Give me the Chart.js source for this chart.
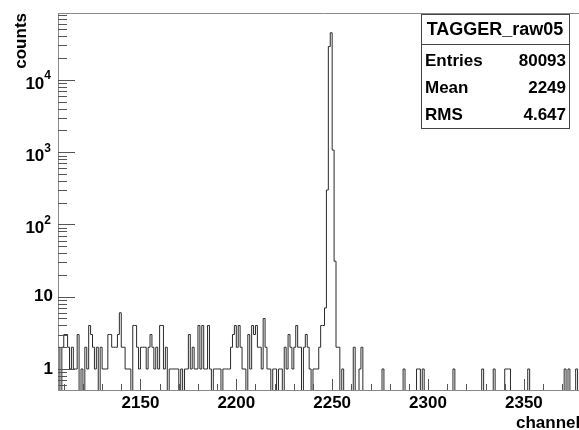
<!DOCTYPE html>
<html><head><meta charset="utf-8">
<script src="https://cdn.jsdelivr.net/npm/chart.js@4.4.1/dist/chart.umd.min.js"></script>
<style>html,body{margin:0;padding:0;overflow:hidden;background:#fff}#wrap{width:600px;height:430px;position:relative}</style>
</head><body><div id="wrap"><canvas id="c" width="600" height="430"></canvas></div>
<script>
// ---- data ----
const binStart = 2107;
const binEnd = 2385;
const counts = [
  2,0,2,3,3,2,1,2,1,1,3,0,1,0,2,1,4,3,2,1,
  2,0,2,1,1,1,3,3,2,2,2,3,6,2,2,1,1,1,0,4,
  4,2,1,2,2,2,1,2,3,2,1,2,1,4,4,1,2,0,1,1,
  1,1,1,0,1,0,1,1,3,1,2,1,1,4,1,4,1,1,4,1,
  0,1,1,1,1,0,1,1,1,1,2,3,4,2,4,2,1,1,0,3,
  1,4,3,4,2,2,1,5,2,1,1,0,1,1,0,1,1,0,2,1,
  3,2,1,2,4,2,2,0,2,3,2,1,0,1,1,1,2,4,4,7,
  300,29000,45000,1070,31,2,2,0,1,0,0,0,0,0,2,0,0,1,2,0,
  0,0,0,0,0,0,0,0,0,1,0,0,0,0,0,0,0,0,0,0,
  1,0,0,0,0,0,0,1,1,0,1,0,0,0,0,0,0,0,0,0,
  0,0,0,0,0,0,1,0,0,0,0,0,0,0,0,0,0,0,0,0,
  0,1,0,0,0,0,0,1,0,0,0,0,0,1,1,1,0,0,0,0,
  0,0,0,0,0,1,0,0,0,0,0,0,0,0,0,0,0,0,0,0,
  0,0,0,0,1,0,1,0,0,0,1,0,0,0,0,0,0,0
];
const xTickLabels = ['2150','2200','2250','2300','2350'];
const xMinorStep = 10;
const yTickValues = [1, 10, 100, 1000, 10000];
const yTickBase = ['1', '10', '10', '10', '10'];
const yTickExp = ['', '', '2', '3', '4'];
const yMin = 0.512, yMax = 84500;
const xTitle = 'channel';
const yTitle = 'counts';
const histName = 'TAGGER_raw05';
const statNames = ['Entries', 'Mean', 'RMS'];
const statValues = ['80093', '2249', '4.647'];

// ---- build ----
// empty bins are drawn down to (and clipped at) the bottom of the log axis, as ROOT does
const zeroFloor = yMin / 10;
const points = counts.map((v, i) => ({x: binStart + i, y: v > 0 ? v : zeroFloor}));
points.push({x: binStart + counts.length, y: points[points.length - 1].y});

const FONT = '"Liberation Sans", Arial, Helvetica, sans-serif';

const rootDecor = {
  id: 'rootDecor',
  afterDraw(chart) {
    const ctx = chart.ctx;
    const a = chart.chartArea;
    const xs = chart.scales.x, ys = chart.scales.y;
    ctx.save();
    // frame
    ctx.strokeStyle = '#8a8a8a';
    ctx.lineWidth = 1;
    ctx.beginPath();
    ctx.moveTo(a.left, a.top + 0.5); ctx.lineTo(a.right, a.top + 0.5);
    ctx.moveTo(a.left + 0.5, a.top); ctx.lineTo(a.left + 0.5, a.bottom);
    ctx.moveTo(a.left, a.bottom + 0.5); ctx.lineTo(a.right, a.bottom + 0.5);
    ctx.moveTo(a.right - 0.5, a.top); ctx.lineTo(a.right - 0.5, a.bottom);
    ctx.stroke();
    // x ticks
    ctx.strokeStyle = '#555';
    ctx.beginPath();
    for (let v = Math.ceil(xs.min / xMinorStep) * xMinorStep; v <= xs.max; v += xMinorStep) {
      const px = Math.round(xs.getPixelForValue(v)) + 0.5;
      const len = (v % 50 === 0) ? 11 : 6;
      ctx.moveTo(px, a.bottom); ctx.lineTo(px, a.bottom - len);
    }
    ctx.stroke();
    // y ticks
    ctx.beginPath();
    for (let e = -1; e <= 4; e++) {
      for (let m = 1; m <= 9; m++) {
        const v = m * Math.pow(10, e);
        if (v < ys.min || v > ys.max) continue;
        const py = Math.round(ys.getPixelForValue(v)) + 0.5;
        const len = (m === 1) ? 17 : 9;
        ctx.moveTo(a.left, py); ctx.lineTo(a.left + len, py);
      }
    }
    ctx.stroke();
    // y labels
    ctx.fillStyle = '#000';
    ctx.textBaseline = 'middle';
    ctx.textAlign = 'right';
    yTickValues.forEach((v, i) => {
      const py = ys.getPixelForValue(v);
      if (!yTickExp[i]) {
        ctx.font = 'bold 17px ' + FONT;
        ctx.fillText(yTickBase[i], a.left - 5, py);
      } else {
        ctx.font = 'bold 12px ' + FONT;
        const ew = ctx.measureText(yTickExp[i]).width;
        ctx.fillText(yTickExp[i], a.left - 7, py - 4);
        ctx.font = 'bold 17px ' + FONT;
        ctx.fillText(yTickBase[i], a.left - 7 - ew, py + 4);
      }
    });
    // axis titles
    ctx.font = 'bold 17px ' + FONT;
    ctx.textAlign = 'left';
    ctx.textBaseline = 'alphabetic';
    ctx.fillText(xTitle, 516, 428);
    ctx.save();
    ctx.translate(26, a.top);
    ctx.rotate(-Math.PI / 2);
    ctx.textAlign = 'right';
    ctx.fillText(yTitle, 0, 0);
    ctx.restore();
    // stats box
    const bx = 421, by = 14, bw = 148, bh = 114, sep = 44;
    ctx.fillStyle = '#fff';
    ctx.fillRect(bx, by, bw, bh);
    ctx.strokeStyle = '#444';
    ctx.strokeRect(bx + 0.5, by + 0.5, bw, bh);
    ctx.beginPath();
    ctx.moveTo(bx, sep + 0.5); ctx.lineTo(bx + bw, sep + 0.5);
    ctx.stroke();
    ctx.fillStyle = '#000';
    ctx.font = 'bold 18px ' + FONT;
    ctx.textBaseline = 'middle';
    ctx.textAlign = 'center';
    ctx.fillText(histName, bx + bw / 2, 30);
    ctx.font = 'bold 17px ' + FONT;
    const rowY = [61, 88, 115];
    statNames.forEach((n, i) => {
      ctx.textAlign = 'left';
      ctx.fillText(n, bx + 4, rowY[i]);
      ctx.textAlign = 'right';
      ctx.fillText(statValues[i], bx + bw - 3, rowY[i]);
    });
    ctx.restore();
  }
};

new Chart(document.getElementById('c'), {
  type: 'line',
  data: {
    datasets: [{
      data: points,
      stepped: true,
      borderColor: '#2a2a2a',
      borderWidth: 1,
      pointRadius: 0,
      fill: false,
      tension: 0
    }]
  },
  options: {
    responsive: false,
    animation: false,
    devicePixelRatio: 1,
    layout: {padding: {top: 13, right: 9, left: 0, bottom: 0}},
    plugins: {legend: {display: false}, tooltip: {enabled: false}},
    scales: {
      x: {
        type: 'linear',
        min: binStart, max: binEnd,
        afterBuildTicks: s => { s.ticks = xTickLabels.map(t => ({value: Number(t)})); },
        afterFit: s => { s.height = 40; },
        ticks: {
          callback: v => String(v),
          autoSkip: false, maxRotation: 0, padding: 3,
          color: '#000', font: {family: FONT, size: 17, weight: 'bold'}
        },
        grid: {display: false, drawTicks: false},
        border: {display: false}
      },
      y: {
        type: 'logarithmic',
        min: yMin, max: yMax,
        afterFit: s => { s.width = 58; },
        ticks: {display: false},
        grid: {display: false, drawTicks: false},
        border: {display: false}
      }
    }
  },
  plugins: [rootDecor]
});
</script>
</body></html>
